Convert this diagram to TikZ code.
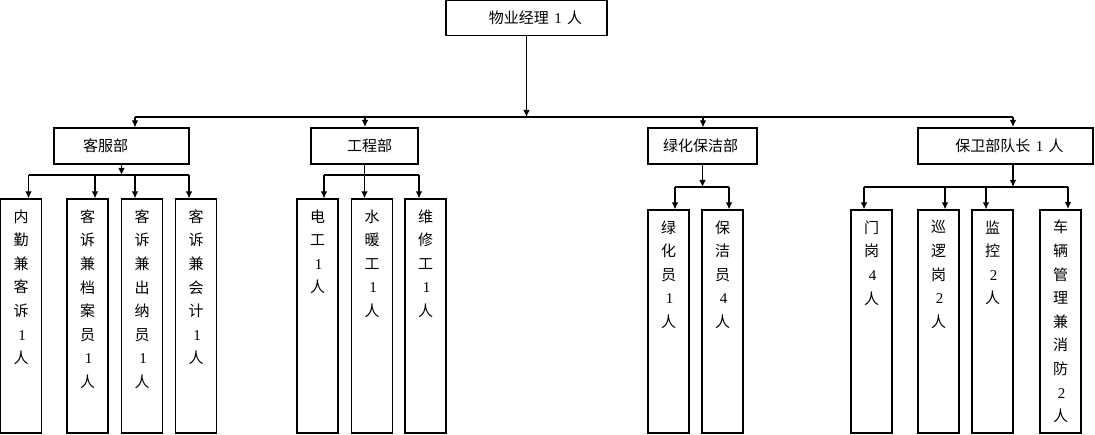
\documentclass[tikz,border=0pt]{standalone}
\usepackage{fontspec}
\setmainfont{Liberation Serif}
\newfontfamily\cjk{Noto Sans CJK SC}
\usetikzlibrary{arrows, arrows.meta}
\usetikzlibrary{calc}
\newcommand{\numtxt}[1]{\hspace{2pt}{\rmfamily #1}\hspace{2pt}}

\begin{document}
\begin{tikzpicture}[x=1pt, y=-1pt,
    box/.style={draw, line width=1.2pt, inner sep=0pt, minimum height=36pt},
    heavybox/.style={box, line width=2pt},
    boxtext/.style={inner sep=0pt, font=\cjk\fontsize{15}{18}\selectfont},
    col/.style={draw, line width=1.2pt, inner sep=0pt, minimum width=41pt, minimum height=#1},
    col/.default=234pt,
    coltext/.style={anchor=north, inner sep=0pt, align=center, yshift=-11pt, font=\cjk\fontsize{15}{23.6}\selectfont},
    arr/.style={line width=1.1pt, -{Latex[length=7pt, width=6.5pt]}},
    link/.style={line width=1.1pt}]
  \useasboundingbox (0,0) rectangle (1095,435);

  % manager
  \node[box, minimum width=161pt, minimum height=35pt,
    label={[boxtext, xshift=9pt]center:物业经理 \numtxt{1} 人}] (jl) at (526.5,18) {};

  % departments
  \node[box, minimum width=135pt, label={[boxtext, xshift=-16pt]center:客服部}] (kf) at (121.5,146) {};
  \node[heavybox, minimum width=107pt, label={[boxtext, xshift=5pt]center:工程部}] (gc) at (364.5,146) {};
  \node[box, minimum width=109pt, label={[boxtext, xshift=-2pt]center:绿化保洁部}] (lh) at (702.5,146) {};
  \node[heavybox, minimum width=175pt, label={[boxtext, xshift=4pt]center:保卫部队长 \numtxt{1} 人}] (bw) at (1005.5,146) {};

  % staff columns
  \node[col, label={[coltext]north:{内\\勤\\兼\\客\\诉\\\numtxt{1}\\人}}] (c11) at (21,316) {};
  \node[col, label={[coltext]north:{客\\诉\\兼\\档\\案\\员\\\numtxt{1}\\人}}] (c12) at (87.5,316) {};
  \node[col, label={[coltext]north:{客\\诉\\兼\\出\\纳\\员\\\numtxt{1}\\人}}] (c13) at (142,316) {};
  \node[col, label={[coltext]north:{客\\诉\\兼\\会\\计\\\numtxt{1}\\人}}] (c14) at (196,316) {};

  \node[col, label={[coltext]north:{电\\工\\\numtxt{1}\\人}}] (c21) at (317.5,316) {};
  \node[col, label={[coltext]north:{水\\暖\\工\\\numtxt{1}\\人}}] (c22) at (372,316) {};
  \node[col, label={[coltext]north:{维\\修\\工\\\numtxt{1}\\人}}] (c23) at (425.5,316) {};

  \node[col=223pt, label={[coltext]north:{绿\\化\\员\\\numtxt{1}\\人}}] (c31) at (668.5,321.5) {};
  \node[col=223pt, label={[coltext]north:{保\\洁\\员\\\numtxt{4}\\人}}] (c32) at (722.5,321.5) {};

  \node[col=223pt, label={[coltext]north:{门\\岗\\\numtxt{4}\\人}}] (c41) at (871.5,321.5) {};
  \node[col=223pt, label={[coltext]north:{巡\\逻\\岗\\\numtxt{2}\\人}}] (c42) at (938.5,321.5) {};
  \node[col=223pt, label={[coltext]north:{监\\控\\\numtxt{2}\\人}}] (c43) at (992.5,321.5) {};
  \node[col=223pt, line width=2pt, label={[coltext]north:{车\\辆\\管\\理\\兼\\消\\防\\\numtxt{2}\\人}}] (c44) at (1060.5,321.5) {};

  % connectors
  \coordinate (bus) at (0,117);
  \coordinate (sub1) at (0,175);
  \coordinate (sub2) at (0,187);

  \draw[arr] (jl.south) -- (jl.south |- bus);
  \draw[link] ([xshift=13.5pt]kf.north |- bus) -- ([xshift=7.5pt]bw.north |- bus);
  \foreach \d/\dx in {kf/13.5, gc/0.5, lh/0.5, bw/7.5}
    \draw[arr] ([xshift=\dx pt]\d.north |- bus) -- ([xshift=\dx pt]\d.north);

  \draw[arr] (kf.south) -- (kf.south |- sub1);
  \draw[link] ([xshift=7.5pt]c11.north |- sub1) -- ([xshift=-7pt]c14.north |- sub1);
  \foreach \c/\dx in {c11/7.5, c12/7.5, c13/-7, c14/-7}
    \draw[arr] ([xshift=\dx pt]\c.north |- sub1) -- ([xshift=\dx pt]\c.north);

  \draw[arr] (gc.south) -- (gc.south |- c22.north);
  \draw[link] ([xshift=6.5pt]c21.north |- sub1) -- ([xshift=-6.5pt]c23.north |- sub1);
  \foreach \c/\dx in {c21/6.5, c23/-6.5}
    \draw[arr] ([xshift=\dx pt]\c.north |- sub1) -- ([xshift=\dx pt]\c.north);

  \draw[arr] (lh.south) -- (lh.south |- sub2);
  \draw[link] ([xshift=6.5pt]c31.north |- sub2) -- ([xshift=6.5pt]c32.north |- sub2);
  \foreach \c/\dx in {c31/6.5, c32/6.5}
    \draw[arr] ([xshift=\dx pt]\c.north |- sub2) -- ([xshift=\dx pt]\c.north);

  \draw[arr] ([xshift=7.5pt]bw.south) -- ([xshift=7.5pt]bw.south |- sub2);
  \draw[link] ([xshift=-7.5pt]c41.north |- sub2) -- ([xshift=7.5pt]c44.north |- sub2);
  \foreach \c/\dx in {c41/-7.5, c42/6.5, c43/-6.5, c44/7.5}
    \draw[arr] ([xshift=\dx pt]\c.north |- sub2) -- ([xshift=\dx pt]\c.north);
\end{tikzpicture}
\end{document}
